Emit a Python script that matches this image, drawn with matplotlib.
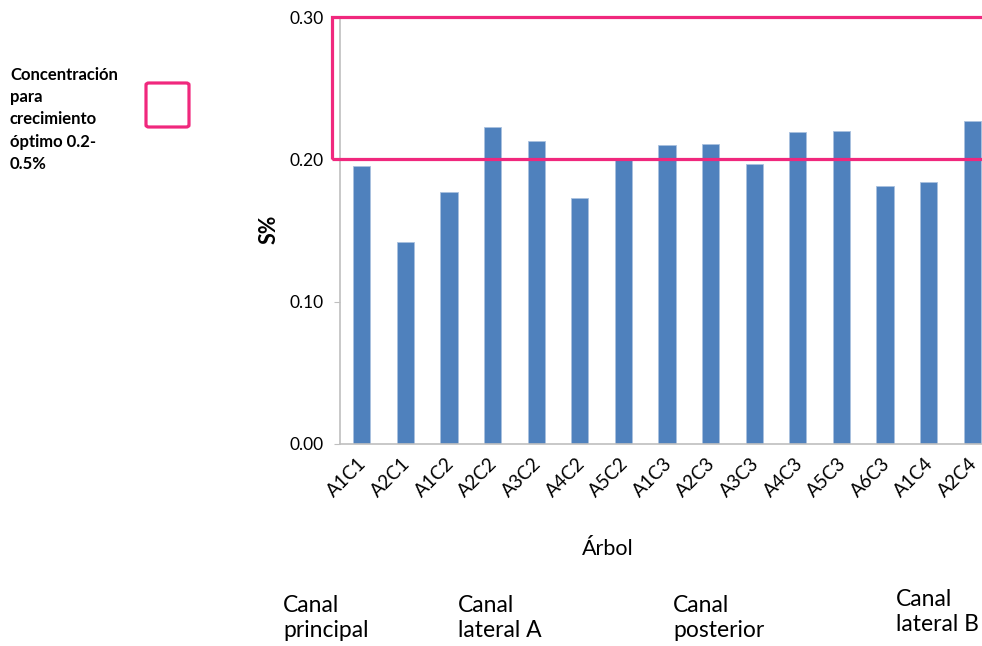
import matplotlib.pyplot as plt
import matplotlib.transforms as mtransforms
from matplotlib.patches import Rectangle, FancyBboxPatch

plt.rcParams['font.family'] = ['Lato', 'DejaVu Sans']

# S% por árbol
arboles = ["A1C1", "A2C1", "A1C2", "A2C2", "A3C2", "A4C2", "A5C2", "A1C3",
           "A2C3", "A3C3", "A4C3", "A5C3", "A6C3", "A1C4", "A2C4"]
azufre = [0.195, 0.142, 0.177, 0.223, 0.213, 0.173, 0.201, 0.210,
          0.211, 0.197, 0.219, 0.220, 0.181, 0.184, 0.227]
optimo = (0.20, 0.30)  # franja dibujada (eje llega a 0.30)
yticks = [0.00, 0.10, 0.20, 0.30]
canales = ["Canal\nprincipal", "Canal\nlateral A", "Canal\nposterior", "Canal\nlateral B"]
leyenda = "Concentración\npara\ncrecimiento\nóptimo 0.2-\n0.5%"

azul = "#4F81BD"
rosa = "#F0287D"
gris = "#BFBFBF"

fig = plt.figure(figsize=(9.82, 6.46), dpi=100)
ax = fig.add_axes([340/982, 1-444/646, 654/982, 427/646])

x = range(len(arboles))
ax.bar(x, azufre, width=0.39, color=azul, edgecolor="#A9C1DF", linewidth=0.6, zorder=2)
ax.set_xlim(-0.5, len(arboles) - 0.5)
ax.set_ylim(0, 0.30)
ax.set_yticks(yticks)
ax.set_yticklabels(["%.2f" % v for v in yticks], fontsize=12.5)
ax.set_xticks(list(x))
ax.set_xticklabels(arboles, rotation=45, ha="right", va="top", rotation_mode="anchor", fontsize=13.5)
ax.tick_params(axis="x", length=0, pad=8)
ax.tick_params(axis="y", length=4, color=gris, pad=8)

# correr un poco las etiquetas para que la última no salga del borde
desplaza = mtransforms.ScaledTranslation(-4/100, 0, fig.dpi_scale_trans)
for lbl in ax.get_xticklabels():
    lbl.set_transform(lbl.get_transform() + desplaza)

for s in ["top", "right"]:
    ax.spines[s].set_visible(False)
for s in ["left", "bottom"]:
    ax.spines[s].set_color(gris)
    ax.spines[s].set_linewidth(1.2)

# franja óptima, un poco a la izquierda del eje
trans = mtransforms.blended_transform_factory(ax.transAxes, ax.transData)
ax.add_patch(Rectangle((-0.012, optimo[0]), 1.2, optimo[1] - optimo[0], transform=trans,
                       fill=False, edgecolor=rosa, linewidth=2.3, clip_on=False, zorder=3))

ax.set_ylabel("S%", fontsize=15.5, fontweight="bold")
ax.yaxis.set_label_coords(-0.092, 0.503)

fig.text(608/982, 1-549/646, "Árbol", fontsize=15.5, ha="center", va="center")

# leyenda manual
fig.text(10/982, 1-67/646, leyenda, fontsize=12, fontweight="bold", ha="left", va="top", linespacing=1.48)
fig.add_artist(FancyBboxPatch((146/982, 1-127/646), 43/982, 44/646, transform=fig.transFigure,
                              boxstyle="round,pad=0,rounding_size=0.003", fill=False,
                              edgecolor=rosa, linewidth=2.3))

xs = [283, 458, 673, 896]
ys = [618, 618, 618, 612]
for etiqueta, px, py in zip(canales, xs, ys):
    fig.text(px/982, 1-py/646, etiqueta, fontsize=16.5, ha="left", va="center", linespacing=1.2)

fig.savefig("out.png", dpi=100)
